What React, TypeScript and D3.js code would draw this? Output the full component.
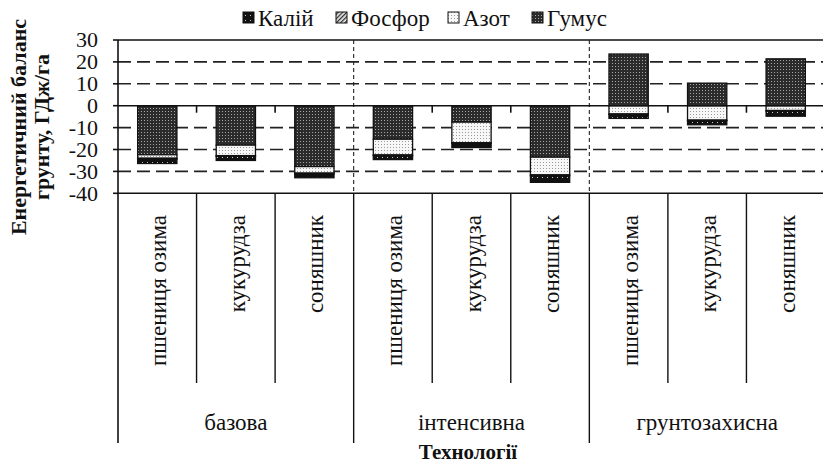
import React from "react";
import * as d3 from "d3";

const technologies = ["базова", "інтенсивна", "грунтозахисна"];
const crops = ["пшениця озима", "кукурудза", "соняшник"];
const legendNames = ["Калій", "Фосфор", "Азот", "Гумус"];
// stacking order from zero outwards
const stackOrder = ["Гумус", "Азот", "Фосфор", "Калій"];

const humus = [-22.4, -18.0, -27.8, -15.3, -7.5, -23.5, 23.6, 10.3, 21.4];
const nitrogen = [-1.6, -4.8, -3.0, -7.2, -9.4, -8.1, -3.8, -6.6, -2.2];
const phosphorus = [-0.4, -0.3, -0.3, -0.3, -0.3, -0.4, -0.2, -0.2, -0.3];
const potassium = [-2.0, -1.9, -1.8, -1.8, -1.9, -3.0, -1.8, -1.9, -2.3];

const yTicks = [30, 20, 10, 0, -10, -20, -30, -40];
const yGrid = [20, 10, -10, -20, -30];

const W = 823;
const H = 464;
const FONT = '"Liberation Serif", Tinos, "Times New Roman", "DejaVu Serif", serif';
const INK = "#111";

const margin = { top: 40, left: 118, right: 825, bottom: 193.3 };

const rows = [];
technologies.forEach((t, ti) => {
    crops.forEach((c, ci) => {
        const i = ti * crops.length + ci;
        rows.push({
            key: `${t}|${c}`,
            tech: t,
            crop: c,
            "Гумус": humus[i],
            "Азот": nitrogen[i],
            "Фосфор": phosphorus[i],
            "Калій": potassium[i],
        });
    });
});

const fills = {
    "Калій": "url(#p-kal)",
    "Фосфор": "url(#p-phos)",
    "Азот": "url(#p-azot)",
    "Гумус": "url(#p-humus)",
};

// legend item left edges (px)
const legendX = [243, 336, 448, 532];

export default function App() {
    const x = d3.scaleBand()
        .domain(rows.map((d) => d.key))
        .range([margin.left, margin.right])
        .paddingInner(0.5)
        .paddingOuter(0.25);
    const step = x.step();

    const y = d3.scaleLinear()
        .domain([-40, 30])
        .range([margin.bottom, margin.top]);

    const series = d3.stack()
        .keys(stackOrder)
        .offset(d3.stackOffsetDiverging)(rows);

    const text = (size, extra = {}) => ({ fontFamily: FONT, fontSize: size, ...extra });

    const cropDividers = d3.range(1, rows.length + 1);

    return (
        <div style={{ position: "absolute", left: 0, top: 0, width: W, height: H, overflow: "hidden", background: "#fff" }}>
            <svg width={W} height={H}>
                <style>{`text, tspan { font-family: ${FONT} !important; }`}</style>
                <defs>
                    <pattern id="p-humus" patternUnits="userSpaceOnUse" width={3} height={3}>
                        <rect width={3} height={3} fill="#2b2b2b" />
                        <rect width={1} height={1} fill="#a8a8a8" />
                    </pattern>
                    <pattern id="p-azot" patternUnits="userSpaceOnUse" width={3} height={3}>
                        <rect width={3} height={3} fill="#f7f7f7" />
                        <rect width={1} height={1} fill="#9a9a9a" />
                    </pattern>
                    <pattern id="p-kal" patternUnits="userSpaceOnUse" width={5} height={5}>
                        <rect width={5} height={5} fill="#111" />
                        <rect x={2} y={2} width={1} height={1} fill="#ccc" />
                    </pattern>
                    <pattern id="p-phos" patternUnits="userSpaceOnUse" width={3} height={3} patternTransform="rotate(45)">
                        <rect width={3} height={3} fill="#eee" />
                        <rect width={1.3} height={3} fill="#333" />
                    </pattern>
                </defs>

                {/* dashed gridlines */}
                {yGrid.map((v) => (
                    <line key={v} x1={margin.left} x2={margin.right} y1={y(v)} y2={y(v)}
                        stroke="#222" strokeWidth={1.6} strokeDasharray="13,6" />
                ))}
                {/* top and bottom solid lines */}
                {[30, -40].map((v) => (
                    <line key={v} x1={margin.left} x2={margin.right} y1={y(v)} y2={y(v)}
                        stroke={INK} strokeWidth={1.6} />
                ))}
                {/* dotted group separators in the plot */}
                {[1, 2].map((g) => {
                    const gx = margin.left + g * crops.length * step;
                    return (
                        <line key={g} x1={gx} x2={gx} y1={y(30)} y2={y(-40)}
                            stroke="#222" strokeWidth={1.1} strokeDasharray="4,3" />
                    );
                })}

                {/* stacked bars */}
                {series.map((s) => (
                    <g key={s.key}>
                        {s.map((d) => (
                            <rect key={d.data.key}
                                x={x(d.data.key)}
                                width={x.bandwidth()}
                                y={y(Math.max(d[0], d[1]))}
                                height={Math.abs(y(d[0]) - y(d[1]))}
                                fill={fills[s.key]}
                                stroke={INK}
                                strokeWidth={1.3} />
                        ))}
                    </g>
                ))}

                {/* zero line and its small ticks */}
                <line x1={margin.left} x2={margin.right} y1={y(0)} y2={y(0)} stroke={INK} strokeWidth={1.6} />
                {cropDividers.filter((k) => k % crops.length !== 0).map((k) => (
                    <line key={k} x1={margin.left + k * step} x2={margin.left + k * step}
                        y1={y(0)} y2={y(0) + 7} stroke={INK} strokeWidth={1.6} />
                ))}

                {/* y axis */}
                <line x1={margin.left} x2={margin.left} y1={y(30)} y2={443} stroke={INK} strokeWidth={1.6} />
                {yTicks.map((v) => (
                    <g key={v}>
                        <line x1={margin.left - 5} x2={margin.left} y1={y(v)} y2={y(v)} stroke={INK} strokeWidth={1.6} />
                        <text x={98} y={y(v)} dy="0.34em" textAnchor="end" fill={INK} style={text(22)}>{v}</text>
                    </g>
                ))}

                {/* category dividers below the plot */}
                {cropDividers.map((k) => {
                    const tx = margin.left + k * step;
                    const isGroup = k % crops.length === 0;
                    return (
                        <line key={k} x1={tx} x2={tx} y1={y(-40)} y2={isGroup ? 443 : 383}
                            stroke={INK} strokeWidth={1.4} />
                    );
                })}

                {/* crop labels */}
                {rows.map((d) => (
                    <text key={d.key}
                        transform={`translate(${x(d.key) + x.bandwidth() / 2 + 9},215) rotate(-90)`}
                        textAnchor="end" fill={INK} style={text(23)}>
                        {d.crop}
                    </text>
                ))}

                {/* technology labels */}
                {technologies.map((t, i) => (
                    <text key={t} x={margin.left + (i + 0.5) * crops.length * step} y={430}
                        textAnchor="middle" fill={INK} style={text(23)}>
                        {t}
                    </text>
                ))}

                {/* x title */}
                <text x={468} y={459} textAnchor="middle" fill={INK} style={text(21, { fontWeight: "bold" })}>
                    Технології
                </text>

                {/* y title */}
                <text transform="translate(0,127) rotate(-90)" textAnchor="middle" fill={INK}
                    style={text(22, { fontWeight: "bold" })}>
                    <tspan x={0} y={26}>Енергетичний баланс</tspan>
                    <tspan x={0} y={49}>грунту, ГДж/га</tspan>
                </text>

                {/* legend */}
                {legendNames.map((name, i) => (
                    <g key={name} transform={`translate(${legendX[i]},18)`}>
                        <rect x={0} y={-6} width={11} height={11} fill={fills[name]} stroke={INK} strokeWidth={1} />
                        <text x={15} y={0} dy="0.34em" fill={INK} style={text(23)}>{name}</text>
                    </g>
                ))}
            </svg>
        </div>
    );
}
